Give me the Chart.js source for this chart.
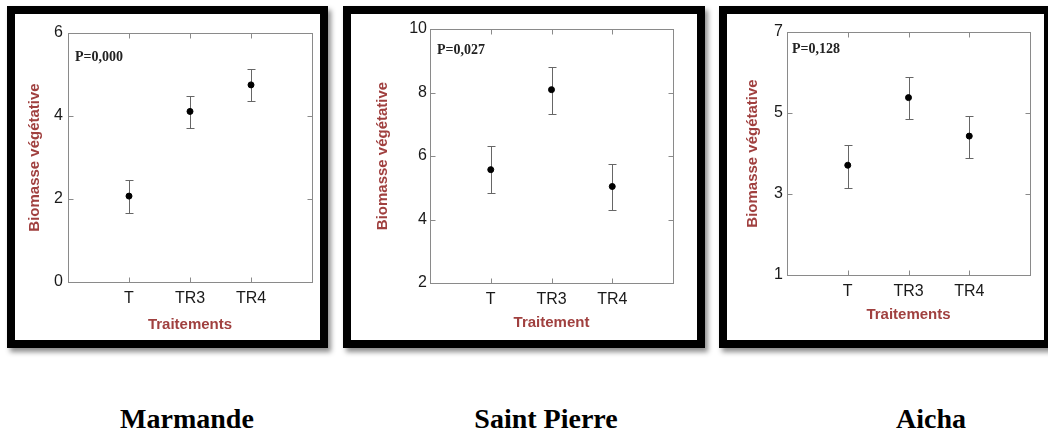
<!DOCTYPE html>
<html>
<head>
<meta charset="utf-8">
<script src="https://cdn.jsdelivr.net/npm/chart.js@4"></script>
<style>
  body { margin: 0; background: #fff; width: 1048px; height: 435px; overflow: hidden; position: relative; }
  .panel { position: absolute; top: 6px; height: 326px; border: 8px solid #000; background: #fff;
           box-shadow: 3px 4px 5px rgba(0,0,0,0.45); }
  .panel canvas { display: block; }
  .site { position: absolute; top: 405px; width: 240px; text-align: center; font: bold 28px "Liberation Serif", serif;
          line-height: 28px; color: #000; }
</style>
</head>
<body>
<div class="panel" id="p0" style="left:7px;width:305px;"><canvas id="c0"></canvas></div>
<div class="panel" id="p1" style="left:343px;width:346px;"><canvas id="c1"></canvas></div>
<div class="panel" id="p2" style="left:719px;width:317px;"><canvas id="c2"></canvas></div>
<div class="site" style="left:67px;">Marmande</div>
<div class="site" style="left:426px;">Saint Pierre</div>
<div class="site" style="left:811px;">Aicha</div>
<script>
const categories = ['T', 'TR3', 'TR4'];

const marmandeMean = [2.07, 4.11, 4.75];
const marmandeLow = [1.67, 3.70, 4.35];
const marmandeHigh = [2.46, 4.48, 5.13];

const saintPierreMean = [5.57, 8.09, 5.04];
const saintPierreLow = [4.83, 7.33, 4.31];
const saintPierreHigh = [6.30, 8.80, 5.76];

const aichaMean = [3.71, 5.38, 4.43];
const aichaLow = [3.16, 4.85, 3.88];
const aichaHigh = [4.22, 5.89, 4.93];

const pValues = ['P=0,000', 'P=0,027', 'P=0,128'];
const xTitles = ['Traitements', 'Traitement', 'Traitements'];
const yTitle = 'Biomasse végétative';
const yMin = [0, 2, 1];
const yMax = [6, 10, 7];
const yStep = [2, 2, 2];

// layout per panel (canvas size, axis sizes, paddings)
const layouts = [
  { w: 305, h: 326, yWidth: 53, xHeight: 58, top: 19, right: 8, yTitlePad: 11, xTitlePad: 6, pX: 7, pY: 24, tickPad: 5 },
  { w: 346, h: 326, yWidth: 79, xHeight: 57, top: 15, right: 24, yTitlePad: 23, xTitlePad: 8, pX: 7, pY: 21, tickPad: 3 },
  { w: 317, h: 326, yWidth: 60, xHeight: 65, top: 18, right: 14, yTitlePad: 17, xTitlePad: 16, pX: 5, pY: 17, tickPad: 4 }
];

const means = [marmandeMean, saintPierreMean, aichaMean];
const lows = [marmandeLow, saintPierreLow, aichaLow];
const highs = [marmandeHigh, saintPierreHigh, aichaHigh];

const titleRed = '#a0403f';

// error bars, drawn under the points
const errorBars = {
  id: 'errorBars',
  beforeDatasetsDraw(chart, args, opts) {
    const { ctx, scales: { x, y } } = chart;
    ctx.save();
    ctx.strokeStyle = '#666';
    ctx.lineWidth = 1;
    opts.low.forEach((lo, i) => {
      const px = Math.round(x.getPixelForValue(i + 1)) + 0.5;
      const yLo = Math.round(y.getPixelForValue(lo)) + 0.5;
      const yHi = Math.round(y.getPixelForValue(opts.high[i])) + 0.5;
      ctx.beginPath();
      ctx.moveTo(px, yLo); ctx.lineTo(px, yHi);
      ctx.moveTo(px - 4, yLo); ctx.lineTo(px + 4, yLo);
      ctx.moveTo(px - 4, yHi); ctx.lineTo(px + 4, yHi);
      ctx.stroke();
    });
    ctx.restore();
  }
};

// box around plot with inward ticks on all sides, plus P label
const frameBox = {
  id: 'frameBox',
  afterDraw(chart, args, opts) {
    const { ctx, chartArea: a, scales: { x, y } } = chart;
    ctx.save();
    ctx.strokeStyle = '#8a8a8a';
    ctx.lineWidth = 1;
    const l = Math.round(a.left) + 0.5, r = Math.round(a.right) + 0.5;
    const t = Math.round(a.top) + 0.5, b = Math.round(a.bottom) + 0.5;
    ctx.strokeRect(l, t, r - l, b - t);
    ctx.beginPath();
    x.ticks.forEach(tk => {
      const px = Math.round(x.getPixelForValue(tk.value)) + 0.5;
      ctx.moveTo(px, b); ctx.lineTo(px, b - 5);
      ctx.moveTo(px, t); ctx.lineTo(px, t + 5);
    });
    y.ticks.forEach(tk => {
      const py = Math.round(y.getPixelForValue(tk.value)) + 0.5;
      ctx.moveTo(l, py); ctx.lineTo(l + 5, py);
      ctx.moveTo(r, py); ctx.lineTo(r - 5, py);
    });
    ctx.stroke();
    ctx.fillStyle = '#222';
    ctx.font = 'bold 14px "Liberation Serif", serif';
    ctx.textBaseline = 'middle';
    ctx.fillText(opts.label, a.left + opts.dx, a.top + opts.dy);
    ctx.restore();
  }
};

function makeChart(i) {
  const lay = layouts[i];
  const canvas = document.getElementById('c' + i);
  new Chart(canvas.getContext('2d'), {
    type: 'scatter',
    data: {
      datasets: [{
        data: means[i].map((m, k) => ({ x: k + 1, y: m })),
        backgroundColor: '#000',
        borderColor: '#000',
        pointRadius: 3
      }]
    },
    options: {
      responsive: false,
      animation: false,
      layout: { padding: { left: 0, top: lay.top, right: lay.right, bottom: 0 } },
      plugins: {
        legend: { display: false },
        tooltip: { enabled: false },
        errorBars: { low: lows[i], high: highs[i] },
        frameBox: { label: pValues[i], dx: lay.pX, dy: lay.pY }
      },
      scales: {
        x: {
          type: 'linear',
          min: 0,
          max: 4,
          afterBuildTicks: (s) => { s.ticks = categories.map((c, k) => ({ value: k + 1 })); },
          afterFit: (s) => { s.height = lay.xHeight; },
          grid: { display: false, drawTicks: false, tickLength: 0 },
          border: { display: false },
          ticks: {
            autoSkip: false,
            maxRotation: 0,
            padding: 7,
            color: '#1a1a1a',
            font: { family: '"Liberation Sans", Arial, sans-serif', size: 16 },
            callback: (v) => categories[v - 1] || ''
          },
          title: {
            display: true,
            text: xTitles[i],
            color: titleRed,
            padding: { top: 0, bottom: lay.xTitlePad },
            font: { family: '"Liberation Sans", Arial, sans-serif', size: 15, weight: 'bold' }
          }
        },
        y: {
          min: yMin[i],
          max: yMax[i],
          afterFit: (s) => { s.width = lay.yWidth; },
          grid: { display: false, drawTicks: false, tickLength: 0 },
          border: { display: false },
          ticks: {
            stepSize: yStep[i],
            padding: lay.tickPad,
            color: '#1a1a1a',
            font: { family: '"Liberation Sans", Arial, sans-serif', size: 16 }
          },
          title: {
            display: true,
            text: yTitle,
            color: titleRed,
            padding: { top: lay.yTitlePad, bottom: 0 },
            font: { family: '"Liberation Sans", Arial, sans-serif', size: 15, weight: 'bold' }
          }
        }
      }
    },
    plugins: [errorBars, frameBox]
  });
}

[0, 1, 2].forEach(i => {
  const lay = layouts[i];
  const c = document.getElementById('c' + i);
  c.width = lay.w;
  c.height = lay.h;
  makeChart(i);
});
</script>
</body>
</html>
